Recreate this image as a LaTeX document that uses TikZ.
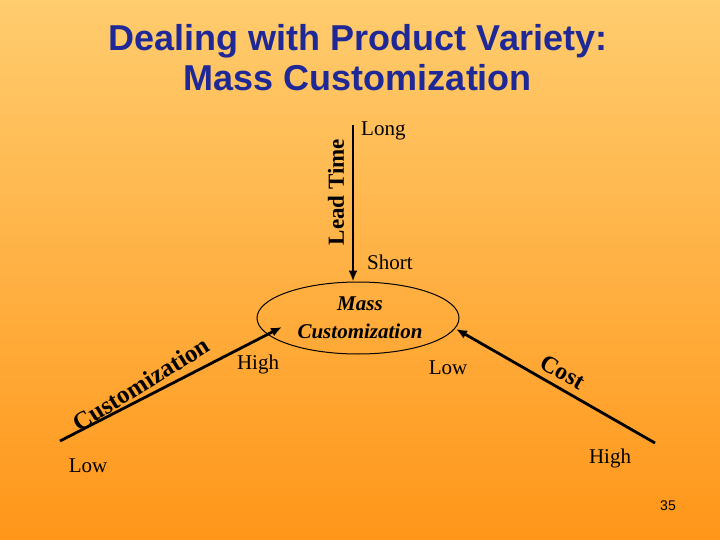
\documentclass[tikz,border=0pt]{standalone}
\usepackage{fontspec}
\setmainfont{Liberation Serif}
\newfontfamily\arialf{Liberation Sans}
\usetikzlibrary{arrows.meta,shapes.geometric}
\begin{document}
\begin{tikzpicture}[x=1pt,y=-1pt,
  lbl/.style={font=\fontsize{21}{23}\selectfont, inner sep=0pt},
  axis/.style={line width=2.8pt,-{Latex[length=11pt,width=9pt]}}]
\shade[top color={rgb,255:red,255;green,204;blue,110}, bottom color={rgb,255:red,255;green,150;blue,25}] (0,0) rectangle (720,540);
\useasboundingbox (0,0) rectangle (720,540);
\node[font=\arialf\bfseries\fontsize{36}{40}\selectfont, text={rgb,255:red,30;green,40;blue,150}, align=center] (title) at (358,58) {Dealing with Product Variety:\\Mass Customization};
\node[draw, line width=1pt, ellipse, minimum width=202pt, minimum height=72pt] (mc) at (358,318) {};
\node[lbl, font=\bfseries\itshape\fontsize{21}{28}\selectfont, align=center] (mct) at (360,318) {Mass\\Customization};
\coordinate (lt) at (353,125);
\coordinate (ll) at (60,441);
\coordinate (rl) at (655,443);
\draw[axis] (lt) -- (mc.north -| lt);
\draw[axis] (ll) -- (282,327);
\draw[axis] (rl) -- (456,329);
\node[lbl, font=\bfseries\fontsize{23}{25}\selectfont, rotate=90] (ltl) at (336,192) {Lead Time};
\node[lbl, anchor=west] (long) at (361,131) {Long};
\node[lbl, anchor=west] (short) at (367,262) {Short};
\node[lbl] (high1) at (258,364) {High};
\node[lbl] (low1) at (448,368) {Low};
\node[lbl] (low2) at (88,466) {Low};
\node[lbl] (high2) at (610,458) {High};
\node[lbl, font=\bfseries\fontsize{25}{27}\selectfont, rotate=32] (cust) at (141,384) {Customization};
\node[lbl, font=\bfseries\fontsize{24}{26}\selectfont, rotate=-30] (cost) at (563,372) {Cost};
\node[font=\arialf\fontsize{14}{16}\selectfont] (pg) at (668,506) {35};
\end{tikzpicture}
\end{document}
